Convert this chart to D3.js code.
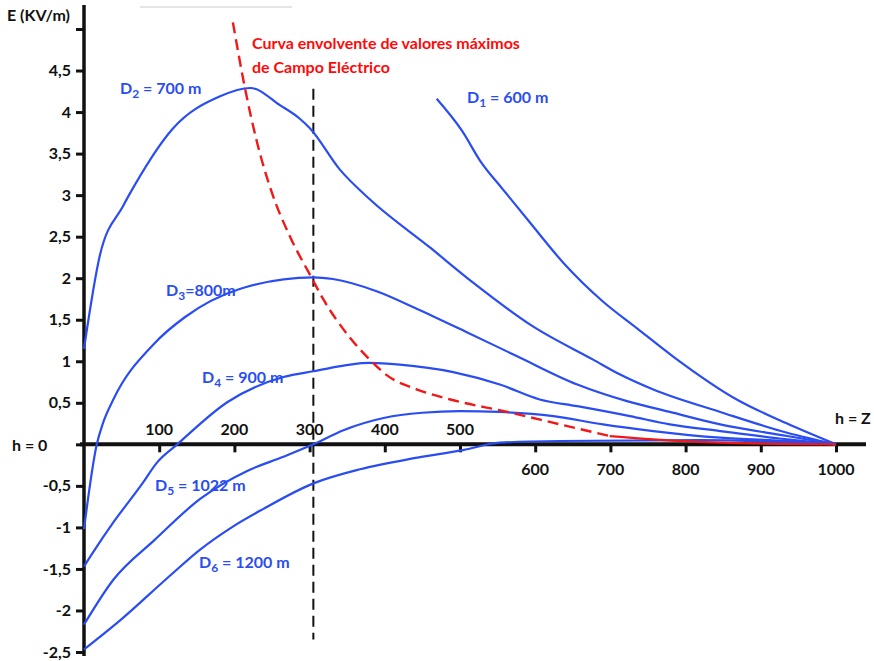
<!DOCTYPE html>
<html>
<head>
<meta charset="utf-8">
<script src="https://cdn.jsdelivr.net/npm/d3@7"></script>
<style>
  body { margin: 0; background: #fff; }
  svg { display: block; font-family: Lato, "Open Sans", sans-serif; }
</style>
</head>
<body>
<svg id="chart" width="874" height="661"></svg>
<script>
// h (m) positions and E (kV/m) values
const d1H = [469, 503, 527, 557, 593, 637, 690, 735, 783, 868, 935, 1000];
const d1E = [4.16, 3.77, 3.41, 3.07, 2.67, 2.19, 1.72, 1.40, 1.06, 0.54, 0.25, 0];

const d2H = [0, 21, 52, 68, 118, 181, 221, 261, 287, 301, 340, 380, 460, 517, 597, 677, 713, 757, 846, 935, 1000];
const d2E = [1.15, 2.27, 2.87, 3.13, 3.80, 4.19, 4.29, 4.08, 3.92, 3.80, 3.31, 2.95, 2.37, 1.95, 1.42, 1.02, 0.84, 0.66, 0.39, 0.14, 0];

const d3H = [0, 17, 25, 39, 92, 134, 207, 305, 331, 390, 443, 509, 576, 656, 722, 779, 846, 935, 1000];
const d3E = [-1.02, 0, 0.25, 0.54, 1.20, 1.53, 1.87, 2.01, 1.99, 1.84, 1.63, 1.35, 1.06, 0.72, 0.52, 0.39, 0.24, 0.10, 0];

const d4H = [0, 12, 39, 77, 97, 124, 191, 265, 305, 380, 420, 491, 553, 606, 656, 726, 779, 846, 935, 1000];
const d4E = [-1.47, -1.30, -0.94, -0.48, -0.22, 0, 0.51, 0.81, 0.88, 0.98, 0.96, 0.87, 0.72, 0.54, 0.46, 0.34, 0.24, 0.16, 0.06, 0];

const d5H = [0, 39, 94, 154, 217, 265, 305, 345, 400, 450, 500, 553, 624, 690, 757, 846, 935, 1000];
const d5E = [-2.17, -1.63, -1.15, -0.66, -0.32, -0.15, 0, 0.17, 0.32, 0.38, 0.40, 0.39, 0.34, 0.24, 0.16, 0.08, 0.04, 0];

const d6H = [0, 48, 112, 154, 198, 238, 305, 367, 437, 504, 553, 633, 819, 1000];
const d6E = [-2.47, -2.12, -1.60, -1.27, -0.99, -0.78, -0.47, -0.30, -0.17, -0.07, 0.02, 0.04, 0.05, 0];

// envelope of maximum values (red)
const envH = [198, 214, 230, 251, 274, 303, 318, 354, 380, 403, 443, 487, 563, 633, 699];
const envE = [5.08, 4.29, 3.64, 3.00, 2.50, 2.00, 1.75, 1.28, 1.02, 0.83, 0.66, 0.54, 0.39, 0.24, 0.10];
const envTailH = [699, 757, 846, 1000];
const envTailE = [0.10, 0.06, 0.02, 0];

const seriesNames = ["D1", "D2", "D3", "D4", "D5", "D6"];
const seriesLabels = [
  ["D", "1", " = 600 m"],
  ["D", "2", " = 700 m"],
  ["D", "3", "=800m"],
  ["D", "4", " = 900 m"],
  ["D", "5", " = 1022 m"],
  ["D", "6", "  = 1200 m"]
];

const yTicks = [-2.5, -2, -1.5, -1, -0.5, 0, 0.5, 1, 1.5, 2, 2.5, 3, 3.5, 4, 4.5, 5];
const xTicks = [100, 200, 300, 400, 500, 600, 700, 800, 900, 1000];
const markerH = 305;

const blue = "#2a4df2";
const svg = d3.select("#chart");

const x = d3.scaleLinear().domain([0, 1000]).range([84, 836]);
const y = d3.scaleLinear().domain([-2.5, 5]).range([652, 29]);

// faint rule at the top of the scan
svg.append("line")
  .attr("x1", 140).attr("x2", 292).attr("y1", 7).attr("y2", 7)
  .attr("stroke", "#ddd").attr("stroke-width", 1.5);

// Y axis
const yAxis = d3.axisLeft(y)
  .tickValues(yTicks)
  .tickSize(8)
  .tickFormat(d => (d === 0 || d === 5) ? "" : String(d).replace(".", ","));
const gy = svg.append("g").attr("transform", `translate(${x(0)},0)`).call(yAxis);
gy.select(".domain").remove();
gy.selectAll(".tick line").attr("stroke", "#111").attr("stroke-width", 3);
gy.selectAll(".tick text")
  .attr("x", -13)
  .attr("fill", "#111")
  .style("font-size", "16px")
  .style("font-weight", 700)
  .style("font-family", "Lato, sans-serif");
svg.append("line")
  .attr("x1", x(0)).attr("x2", x(0)).attr("y1", 5).attr("y2", 656)
  .attr("stroke", "#111").attr("stroke-width", 3.5);

// X axis
const xAxis = d3.axisBottom(x).tickValues(xTicks).tickSize(8).tickFormat("");
const gx = svg.append("g").attr("transform", `translate(0,${y(0)})`).call(xAxis);
gx.select(".domain").remove();
gx.selectAll(".tick line").attr("stroke", "#111").attr("stroke-width", 3);
svg.append("line")
  .attr("x1", 80).attr("x2", 866).attr("y1", y(0)).attr("y2", y(0))
  .attr("stroke", "#111").attr("stroke-width", 4);

svg.append("g").selectAll("text")
  .data(xTicks)
  .join("text")
  .attr("x", d => x(d))
  .attr("y", d => d <= 500 ? y(0) - 9 : y(0) + 31)
  .attr("text-anchor", "middle")
  .attr("fill", "#111")
  .style("font-size", "16px")
  .style("font-weight", 700)
  .text(d => d);

svg.append("text").attr("x", 7).attr("y", 21)
  .attr("fill", "#111").style("font-size", "16px").style("font-weight", 700)
  .text("E (KV/m)");
svg.append("text").attr("x", 12).attr("y", 451)
  .attr("fill", "#111").style("font-size", "16px").style("font-weight", 700)
  .text("h = 0");
svg.append("text").attr("x", 835).attr("y", 424)
  .attr("fill", "#111").style("font-size", "16px").style("font-weight", 700)
  .text("h = Z");

// vertical dashed marker at h = 300
svg.append("line")
  .attr("x1", x(markerH)).attr("x2", x(markerH))
  .attr("y1", y(4.28)).attr("y2", y(-2.35))
  .attr("stroke", "#111").attr("stroke-width", 2)
  .attr("stroke-dasharray", "11,6");

// blue curves
const line = d3.line()
  .x(d => x(d[0]))
  .y(d => y(d[1]))
  .curve(d3.curveMonotoneX);

const allH = [d1H, d2H, d3H, d4H, d5H, d6H];
const allE = [d1E, d2E, d3E, d4E, d5E, d6E];
const series = seriesNames.map((name, i) => ({
  name,
  points: allH[i].map((h, j) => [h, allE[i][j]])
}));

svg.append("g").selectAll("path")
  .data(series)
  .join("path")
  .attr("d", d => line(d.points))
  .attr("fill", "none")
  .attr("stroke", blue)
  .attr("stroke-width", 2.2);

// red envelope
svg.append("path")
  .attr("d", line(envH.map((h, j) => [h, envE[j]])))
  .attr("fill", "none")
  .attr("stroke", "#f21818")
  .attr("stroke-width", 2.4)
  .attr("stroke-dasharray", "11,6");
svg.append("path")
  .attr("d", line(envTailH.map((h, j) => [h, envTailE[j]])))
  .attr("fill", "none")
  .attr("stroke", "#f21818")
  .attr("stroke-width", 2.2);

// series labels
const labelPos = [[467, 103], [120, 94], [166, 296], [202, 383], [155, 491], [199, 568]];
const labels = svg.append("g").selectAll("text")
  .data(seriesLabels)
  .join("text")
  .attr("x", (d, i) => labelPos[i][0])
  .attr("y", (d, i) => labelPos[i][1])
  .attr("fill", blue)
  .style("font-size", "16px")
  .style("font-weight", 700);
labels.append("tspan").text(d => d[0]);
labels.append("tspan").attr("dy", 4).style("font-size", "12px").text(d => d[1]);
labels.append("tspan").attr("dy", -4).text(d => d[2]);

// red annotation
const note = svg.append("text").attr("fill", "#ff0a0a")
  .style("font-size", "16px").style("font-weight", 700);
note.append("tspan").attr("x", 252).attr("y", 49).text("Curva envolvente de valores máximos");
note.append("tspan").attr("x", 252).attr("y", 73).text("de Campo Eléctrico");
</script>
</body>
</html>
